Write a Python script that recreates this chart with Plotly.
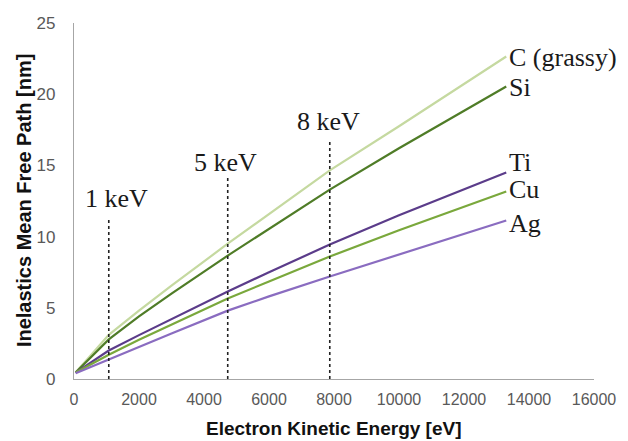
import plotly.graph_objects as go

energy = [50, 1070, 2000, 3000, 4730, 6000, 7870, 10000, 12000, 13300]
series_names = ["C (grassy)", "Si", "Ti", "Cu", "Ag"]
imfp_C = [0.45, 3.1, 4.8, 6.55, 9.5, 11.6, 14.65, 17.75, 20.7, 22.65]
imfp_Si = [0.45, 2.78, 4.4, 6.0, 8.67, 10.55, 13.3, 16.2, 18.85, 20.54]
imfp_Ti = [0.45, 2.0, 3.08, 4.22, 6.15, 7.5, 9.44, 11.5, 13.35, 14.5]
imfp_Cu = [0.45, 1.7, 2.75, 3.82, 5.65, 6.85, 8.6, 10.45, 12.1, 13.17]
imfp_Ag = [0.4, 1.37, 2.3, 3.2, 4.8, 5.8, 7.2, 8.75, 10.2, 11.13]
label_y = [22.6, 20.5, 15.2, 13.3, 10.9]

x_ticks = [0, 2000, 4000, 6000, 8000, 10000, 12000, 14000, 16000]
y_ticks = [0, 5, 10, 15, 20, 25]

marker_energy = [1070, 4730, 7870]
marker_top = [11.3, 14.2, 16.7]
marker_labels = ["1 keV", "5 keV", "8 keV"]
marker_label_x = [1310, 4656, 7817]
marker_label_y = [12.7, 15.2, 18.05]

colors = ["#c5d9a0", "#4f7c27", "#5b3c8a", "#7aa83c", "#8a6cc0"]

fig = go.Figure()
for name, vals, col in zip(series_names, [imfp_C, imfp_Si, imfp_Ti, imfp_Cu, imfp_Ag], colors):
    fig.add_trace(go.Scatter(x=energy, y=vals, mode="lines", name=name,
                             line=dict(color=col, width=2.2)))

for xe, yt in zip(marker_energy, marker_top):
    fig.add_trace(go.Scatter(x=[xe, xe], y=[0, yt], mode="lines",
                             line=dict(color="#222222", width=1.6, dash="dot")))

annotations = []
for name, ly in zip(series_names, label_y):
    annotations.append(dict(x=energy[-1], y=ly, xref="x", yref="y", text=name,
                            showarrow=False, xanchor="left", yanchor="middle", xshift=1,
                            font=dict(family="Liberation Serif", size=26, color="#1a1a1a")))
for lab, lx, ly in zip(marker_labels, marker_label_x, marker_label_y):
    annotations.append(dict(x=lx, y=ly, xref="x", yref="y", text=lab,
                            showarrow=False, xanchor="center", yanchor="middle",
                            font=dict(family="Liberation Serif", size=26, color="#1a1a1a")))
annotations.append(dict(x=0.5, y=-0.14, xref="paper", yref="paper",
                        text="<b>Electron Kinetic Energy [eV]</b>", showarrow=False,
                        xanchor="center", yanchor="middle",
                        font=dict(family="Liberation Sans", size=19, color="#111111")))
annotations.append(dict(x=-0.096, y=0.5, xref="paper", yref="paper",
                        text="<b>Inelastics Mean Free Path [nm]</b>", showarrow=False,
                        textangle=-90, xanchor="center", yanchor="middle",
                        font=dict(family="Liberation Sans", size=20, color="#111111")))

fig.update_layout(
    width=628, height=441,
    margin=dict(l=74, r=32, t=23, b=62),
    paper_bgcolor="white", plot_bgcolor="white",
    showlegend=False,
    annotations=annotations,
    xaxis=dict(range=[0, 16000], tickvals=x_ticks, ticktext=[str(v) for v in x_ticks],
               showgrid=False, zeroline=False, showline=True, linecolor="#a6a6a6", linewidth=1.2,
               ticks="", tickfont=dict(family="Liberation Sans", size=16, color="#595959")),
    yaxis=dict(range=[0, 25], tickvals=y_ticks, ticktext=[str(v) for v in y_ticks],
               showgrid=False, zeroline=False, showline=True, linecolor="#a6a6a6", linewidth=1.2,
               ticks="", tickfont=dict(family="Liberation Sans", size=17, color="#595959")),
)
fig.update_xaxes(ticklabelstandoff=6)
fig.update_yaxes(ticklabelstandoff=14)

fig.write_html("out.html")
